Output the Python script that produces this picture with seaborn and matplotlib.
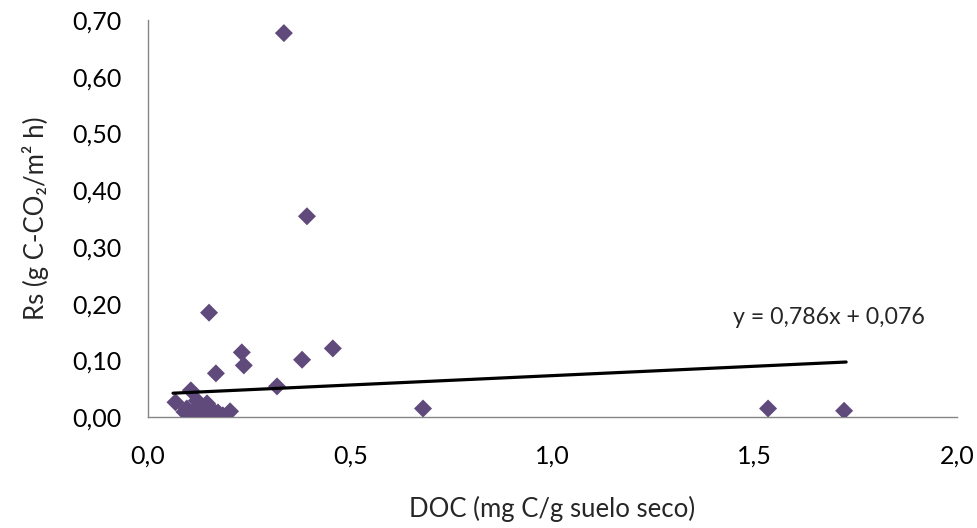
import matplotlib
matplotlib.use("Agg")
import matplotlib.pyplot as plt
import matplotlib.ticker as mticker
import seaborn as sns
import pandas as pd
import numpy as np

# Data
doc = [0.336, 0.393, 0.457, 0.381, 0.680, 1.533, 1.721, 0.151, 0.232, 0.237,
       0.168, 0.319, 0.203, 0.106, 0.068, 0.096, 0.121, 0.111, 0.136, 0.153,
       0.161, 0.173, 0.185, 0.128, 0.146, 0.090, 0.118]
rs = [0.677, 0.354, 0.121, 0.101, 0.015, 0.015, 0.011, 0.184, 0.114, 0.091,
      0.077, 0.054, 0.010, 0.047, 0.026, 0.015, 0.029, 0.006, 0.008, 0.017,
      0.003, 0.008, 0.003, 0.001, 0.024, 0.009, 0.014]
trend_x = [0.062, 1.726]
trend_y = [0.042, 0.097]
equation = "y = 0,786x + 0,076"
x_ticks = [0.0, 0.5, 1.0, 1.5, 2.0]
y_ticks = [0.0, 0.1, 0.2, 0.3, 0.4, 0.5, 0.6, 0.7]

sns.set_style("white")
plt.rcParams['font.family'] = ['Lato', 'DejaVu Sans']

df = pd.DataFrame({"DOC": doc, "Rs": rs})

fig = plt.figure(figsize=(9.78, 5.28), dpi=100)
ax = fig.add_axes([0.1513, 0.2102, 0.8272, 0.7518])

sns.scatterplot(data=df, x="DOC", y="Rs", ax=ax, marker="D", s=84,
                color="#604A7B", edgecolor="none", zorder=3)
sns.lineplot(x=trend_x, y=trend_y, ax=ax, color="black", linewidth=2.3,
             zorder=4, estimator=None)

ax.set_xlim(0, 2.0)
ax.set_ylim(0, 0.70)
ax.set_xticks(x_ticks)
ax.set_yticks(y_ticks)
ax.xaxis.set_major_formatter(mticker.FuncFormatter(lambda v, p: f"{v:.1f}".replace(".", ",")))
ax.yaxis.set_major_formatter(mticker.FuncFormatter(lambda v, p: f"{v:.2f}".replace(".", ",")))

for s in ["top", "right"]:
    ax.spines[s].set_visible(False)
for s in ["left", "bottom"]:
    ax.spines[s].set_color("#868686")
    ax.spines[s].set_linewidth(1.0)

ax.tick_params(axis="both", which="major", direction="out",
               width=1.0, color="#868686", labelsize=18, labelcolor="black")
ax.tick_params(axis="y", length=7, pad=12)
ax.tick_params(axis="x", length=5, pad=15)

ax.set_xlabel("DOC (mg C/g suelo seco)", fontsize=18.5, labelpad=20)
ax.set_ylabel("Rs (g C-CO\u2082/m\u00b2 h)", fontsize=18.5, labelpad=17)

ax.text(829, 528 - 318, equation, transform=None, fontsize=16.7,
        ha="center", va="center")

fig.savefig("out.png", dpi=100)
